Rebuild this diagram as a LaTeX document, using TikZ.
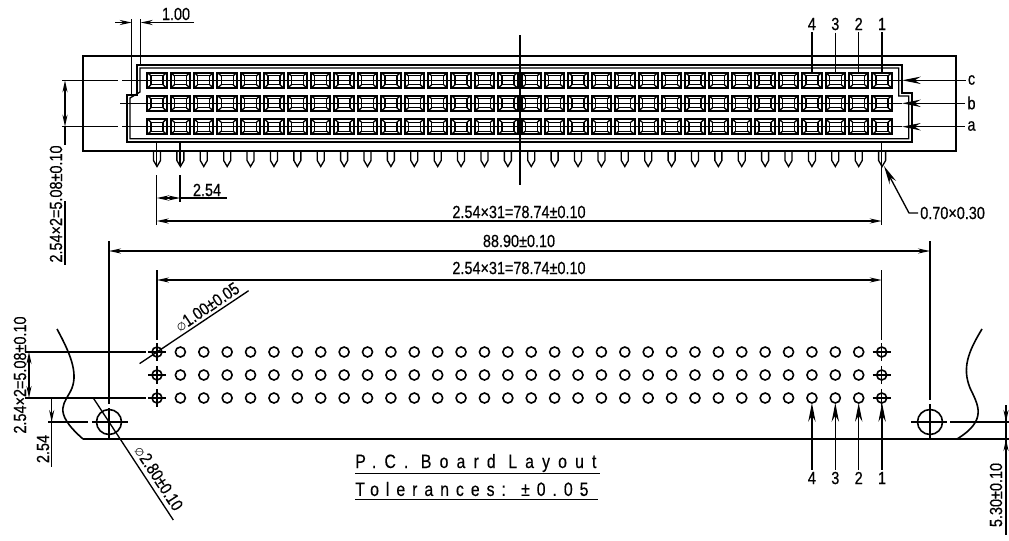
\documentclass[tikz,border=0pt]{standalone}
\usepackage{fontspec}
\setmainfont[FakeStretch=0.82,FakeBold=0.5]{Liberation Sans}
\newfontfamily\titlefont[FakeStretch=0.82,FakeBold=0.3,LetterSpace=42]{Liberation Sans}
\newfontfamily\tolfont[FakeStretch=0.82,FakeBold=0.3,LetterSpace=36]{Liberation Sans}
\newfontfamily\symfont{DejaVu Sans}
\usetikzlibrary{arrows.meta}
\begin{document}
\begin{tikzpicture}[
    x=0.75pt, y=-0.75pt,
    every node/.style={inner sep=0pt, font=\fontsize{13.2}{15}\selectfont},
    outline/.style={line width=1.2pt},
    thinline/.style={line width=1pt},
    dim/.style={line width=1pt, {Stealth[length=9pt,width=3.8pt]}-{Stealth[length=9pt,width=3.8pt]}},
    dimtip/.style={line width=1pt, -{Stealth[length=9pt,width=3.8pt]}},
    rowtip/.style={line width=1pt, -{Stealth[length=14pt,width=5.5pt]}},
    contactbox/.style={line width=1.5pt},
    contact/.style={line width=1pt}
]
    \useasboundingbox (0,0) rectangle (1009,540);

    \draw[outline] (83,56) rectangle (956,150.7);
    \draw[outline] (137,65) -- (901.7,65) -- (901.7,93) -- (911.7,93) -- (911.7,141.7) -- (127,141.7) -- (127,95) -- (137,95) -- cycle;
    \draw[thinline] (140,68) -- (898.7,68) -- (898.7,96) -- (908.7,96) -- (908.7,138.7) -- (130,138.7) -- (130,98) -- (140,92) -- cycle;

    \foreach \row in {80.3,103.3,126.7} {
        \foreach \col in {0,...,31} {
            \pgfmathsetmacro{\px}{157+23.39*\col}
            \draw[contactbox] (\px-9.7,\row-7.7) rectangle (\px+9.7,\row+7.7);
            \draw[contact] (\px-6,\row-4.5) rectangle (\px+6,\row+4.5);
            \draw[contact] (\px-9.7,\row-7.7) -- (\px-6,\row-4.5) (\px+9.7,\row-7.7) -- (\px+6,\row-4.5)
                (\px-9.7,\row+7.7) -- (\px-6,\row+4.5) (\px+9.7,\row+7.7) -- (\px+6,\row+4.5);
        }
    }
    \foreach \col in {0,...,31} {
        \pgfmathsetmacro{\px}{157+23.39*\col}
        \draw[thinline] (\px-3.5,151) -- (\px-3.5,160.5) -- (\px,166.5) -- (\px+3.5,160.5) -- (\px+3.5,151);
    }

    % contact rows
    \draw[thinline] (62,80.3) -- (118,80.3) (122,80.3) -- (902,80.3);
    \draw[thinline] (120,103.3) -- (902,103.3);
    \draw[thinline] (62,126.7) -- (118,126.7) (122,126.7) -- (902,126.7);
    \node (rowc) at (971.5,80) {c};
    \node (rowb) at (971.5,103) {b};
    \node (rowa) at (971.5,126) {a};
    \foreach \lbl/\row in {rowc/80.3,rowb/103.3,rowa/126.7} {
        \draw[rowtip] (\lbl.west |- 0,\row) ++(-2,0) -- (902,\row);
    }

    % column numbers
    \foreach \n/\col in {4/28,3/29,2/30,1/31} {
        \pgfmathsetmacro{\px}{157+23.39*\col}
        \node (top\n) at (\px,24) {\n};
        \draw[thinline] (top\n.south) ++(0,2) -- (\px,72.7);
        \node (bot\n) at (\px,478) {\n};
        \draw[rowtip] (bot\n.north) ++(0,-2) -- (\px,403);
    }
    \draw[thinline] (520,35) -- (520,185);

    % upper dimensions
    \draw[thinline] (131.7,19) -- (131.7,94);
    \draw[thinline] (140.7,19) -- (140.7,65);
    \draw[dimtip] (115,22.5) -- (131.7,22.5);
    \draw[dimtip] (194,22.5) -- (140.7,22.5);
    \node (gap) at (176,14) {1.00};

    \draw[thinline] (65,201) -- (65,265);
    \draw[dim] (65,80.3) -- (65,126.7);
    \draw[thinline] (65,126.7) -- (65,145);
    \node[rotate=90] (pitchab) at (56,204) {2.54×2=5.08±0.10};

    \draw[thinline] (156.7,142) -- (156.7,166) (156.7,175) -- (156.7,225);
    \draw[thinline] (180.1,142) -- (180.1,166) (180.1,175) -- (180.1,202);
    \draw[dim] (156.7,198) -- (180.1,198);
    \draw[thinline] (180.1,198) -- (227,198);
    \node (pitch) at (207,190) {2.54};

    \draw[thinline] (881.7,142) -- (881.7,225);
    \draw[dim] (156.7,221) -- (881.7,221);
    \node (span) at (519,212) {2.54×31=78.74±0.10};

    \node[anchor=west] (pinsize) at (920,213) {0.70×0.30};
    \draw[rowtip] (pinsize.west) ++(-2,0) -- (909,213) -- (884,166);

    % lower dimensions
    \draw[thinline] (109,241) -- (109,404) (109,408) -- (109,440);
    \draw[thinline] (930,241) -- (930,400) (930,404) -- (930,440);
    \draw[dim] (109,251) -- (930,251);
    \node (width) at (519,241) {88.90±0.10};
    \draw[dim] (157,280) -- (881.7,280);
    \node (spanb) at (519,268) {2.54×31=78.74±0.10};
    \draw[thinline] (157,270) -- (157,340);
    \draw[thinline] (881.7,270) -- (881.7,340);

    % holes
    \foreach \row in {352,375,398} {
        \foreach \col in {1,...,30} {
            \pgfmathsetmacro{\px}{157+23.39*\col}
            \draw[outline] (\px,\row) circle (5);
        }
        \foreach \px in {157,881.7} {
            \draw[outline] (\px,\row) circle (5);
            \draw[thinline] (\px-9,\row) -- (\px+9,\row) (\px,\row-9) -- (\px,\row+9);
        }
    }
    \draw[outline] (109,422) circle (12.5);
    \draw[outline] (930,422) circle (12.5);

    \draw[outline] (83,439) -- (1009,439);
    \draw[thinline] (25,352) -- (146,352);
    \draw[thinline] (25,398) -- (146,398);
    \draw[dim] (29,352) -- (29,398);
    \node[rotate=90] (pitchb) at (20,375) {2.54×2=5.08±0.10};

    \draw[thinline] (48,422) -- (88,422) (92,422) -- (128,422);
    \draw[thinline] (911,422) -- (947,422) (950,422) -- (1009,422);
    \draw[thinline] (51.7,398) -- (51.7,467);
    \draw[dimtip] (51.7,398) -- (51.7,422);
    \node[rotate=90] (offset) at (43,449) {2.54};

    \draw[outline] (57,329) .. controls (70,353) and (78,372) .. (72,388) .. controls (66,403) and (50,410) .. (83,439);
    \draw[outline] (982,329) .. controls (968,352) and (962,368) .. (970,388) .. controls (978,405) and (988,420) .. (957,439);

    % leaders
    \draw[thinline] (139.6,363.6) -- (248.6,290.7);
    \node[rotate=34] (hole) at (207,307) {{\symfont\fontsize{8}{10}\selectfont ∅}1.00±0.05};
    \draw[thinline] (93.3,398) -- (173.3,520);
    \node[rotate=-57] (mount) at (159,478) {{\symfont\fontsize{8}{10}\selectfont ∅}2.80±0.10};

    \draw[thinline] (1006,405) -- (1006,535);
    \draw[dimtip] (1006,405) -- (1006,422);
    \draw[dimtip] (1006,455) -- (1006,439);
    \node[rotate=90] (edge) at (996,495) {5.30±0.10};

    % note
    \node[anchor=west] (title) at (355,463) {\titlefont\fontsize{14.5}{16}\selectfont P.C. Board Layout};
    \node[anchor=west] (tol) at (355,489) {\tolfont\fontsize{14.5}{16}\selectfont Tolerances: ±0.05};
    \draw[thinline] (355,473.5) -- (600,473.5);
    \draw[thinline] (355,499.5) -- (598,499.5);
\end{tikzpicture}
\end{document}
